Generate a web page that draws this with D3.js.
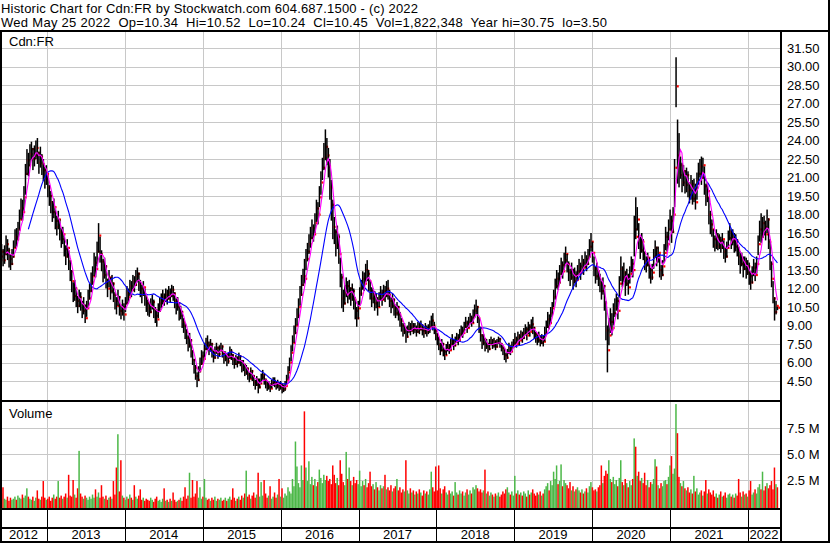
<!DOCTYPE html>
<html>
<head>
<meta charset="utf-8">
<script src="https://cdn.jsdelivr.net/npm/d3@7"></script>
<style>
  html, body { margin: 0; padding: 0; background: #fff; }
  svg { display: block; font-family: "Liberation Sans", Arial, sans-serif; }
</style>
</head>
<body>
<div id="chart"></div>
<script>
// header text
const headerLines = [
    "Historic Chart for Cdn:FR by Stockwatch.com 604.687.1500 - (c) 2022",
    "Wed May 25 2022  Op=10.34  Hi=10.52  Lo=10.24  Cl=10.45  Vol=1,822,348  Year hi=30.75  lo=3.50"
];
const headerWidths = [417, 606];
const yearLabels = ["2012", "2013", "2014", "2015", "2016", "2017", "2018", "2019", "2020", "2021", "2022"];
const priceTicks = [4.5, 6, 7.5, 9, 10.5, 12, 13.5, 15, 16.5, 18, 19.5, 21, 22.5, 24, 25.5, 27, 28.5, 30, 31.5];
const volTicks = [2.5, 5, 7.5];
const volTickLabels = ["2.5 M", "5.0 M", "7.5 M"];

// weekly bars, first week ends 2012-05-25
const weekHigh = [
    15.4,15.6,15.2,15.5,16.3,16.0,15.3,14.8,15.2,15.9,
    16.8,16.9,17.4,18.4,19.3,19.2,20.3,22.1,23.3,23.0,
    23.7,23.9,23.4,23.6,24.0,24.2,23.1,23.5,22.9,22.5,
    21.9,22.0,21.2,20.4,19.9,19.1,19.3,18.5,17.9,18.3,
    17.6,16.9,17.0,16.3,15.5,16.0,15.1,14.3,13.5,12.5,
    12.7,12.1,11.4,11.9,11.7,11.0,11.3,10.7,11.0,11.9,
    12.4,13.3,13.8,14.9,14.6,15.8,17.3,16.2,15.1,14.4,
    14.5,13.9,12.8,13.5,12.9,13.1,12.5,11.7,11.3,11.9,
    11.4,10.7,11.1,10.8,11.3,12.2,12.0,12.7,12.6,13.1,
    13.0,13.5,13.7,13.3,12.7,12.3,12.6,12.0,11.5,11.1,
    10.8,11.2,11.5,11.1,10.5,10.3,10.8,11.3,11.6,11.9,
    11.6,12.0,11.9,12.2,12.0,12.3,12.2,11.7,11.2,11.3,
    10.9,10.6,10.2,9.6,9.2,8.7,8.2,8.4,7.9,7.0,
    6.3,5.8,5.2,5.7,6.4,7.0,6.9,7.6,8.0,8.2,
    7.7,7.9,7.6,7.0,7.3,7.6,7.3,7.4,7.6,7.4,
    6.9,6.9,6.7,6.8,7.3,7.1,6.7,6.4,6.6,6.5,
    6.8,6.6,6.2,6.2,5.9,5.8,5.6,5.2,5.6,5.4,
    5.0,4.6,4.9,4.7,4.7,5.1,5.4,5.1,4.7,4.5,
    4.5,4.3,4.6,4.8,4.8,4.5,4.6,4.4,4.5,4.3,
    4.2,4.5,5.0,5.7,6.4,7.4,8.2,9.0,9.6,10.4,
    11.2,12.2,13.1,13.6,14.4,15.2,15.7,16.4,17.0,17.6,
    17.2,18.1,19.2,19.0,20.3,21.5,22.6,23.8,24.9,24.2,
    23.4,22.5,20.8,19.2,17.8,16.8,17.1,16.4,14.5,13.2,
    11.9,12.3,12.9,12.6,12.7,12.1,12.4,12.0,11.3,10.5,
    11.0,12.1,12.7,13.4,13.3,14.0,14.3,13.5,12.7,12.1,
    12.0,11.8,11.6,11.3,11.7,12.2,11.9,12.3,12.2,12.6,
    12.7,11.9,11.3,11.6,11.2,10.7,10.9,10.6,10.1,9.6,
    9.2,9.2,8.9,9.0,9.3,9.2,9.4,9.2,9.2,9.0,
    9.3,9.2,9.4,9.1,8.9,9.2,9.0,9.1,9.4,9.8,
    10.0,9.3,8.8,8.4,8.1,7.6,7.9,7.6,7.1,7.5,
    7.7,7.5,7.9,8.3,7.9,8.1,8.4,8.3,8.7,9.0,
    8.9,9.3,9.7,9.4,9.7,10.0,9.8,10.3,10.7,11.1,
    10.6,9.7,8.9,8.3,8.3,8.0,7.9,7.6,7.9,8.1,
    7.9,8.0,7.8,7.9,8.1,8.0,7.6,7.4,7.2,6.8,
    7.1,7.6,7.4,7.7,7.9,8.4,8.1,8.5,8.3,8.6,
    8.5,8.8,9.1,8.9,9.3,9.1,9.5,9.7,8.9,8.5,
    8.3,8.5,8.2,8.3,8.2,8.9,9.4,10.1,9.9,10.5,
    10.9,11.9,12.8,13.5,13.3,13.9,14.5,14.2,14.9,15.4,
    14.8,14.2,13.6,14.1,13.6,13.7,13.4,13.9,14.4,14.1,
    14.7,14.4,15.0,14.7,15.2,16.0,16.5,15.8,14.6,13.8,
    14.1,13.5,13.2,12.6,12.9,12.3,11.0,9.0,9.6,10.4,
    10.0,10.8,11.2,11.6,11.3,13.0,14.6,13.8,14.1,13.4,
    13.6,13.2,13.8,14.6,14.4,17.9,19.4,18.6,17.3,16.2,
    16.5,16.0,15.0,14.6,14.9,14.5,13.7,14.0,15.2,15.9,
    15.4,15.4,14.8,13.9,14.3,15.6,17.0,16.6,17.6,18.4,
    17.9,18.6,22.5,30.75,25.7,24.6,22.7,22.2,22.0,21.6,
    21.8,21.5,20.6,21.2,20.8,20.9,20.5,21.4,22.2,22.5,
    22.7,22.6,21.9,20.5,20.6,19.4,18.3,17.6,16.8,16.3,
    16.8,16.5,16.4,16.2,16.5,15.9,15.3,15.8,16.7,17.3,
    16.8,16.8,16.5,16.4,16.0,15.4,15.0,14.9,14.6,14.6,
    14.5,14.3,14.1,13.4,13.8,14.4,14.1,14.6,16.3,17.5,
    18.1,17.8,17.9,17.5,18.4,17.7,16.0,14.2,12.6,11.3,
    11.0,10.52
];
const weekLow = [
    13.9,14.2,13.8,14.0,14.7,14.3,13.7,13.5,13.9,14.5,
    15.3,15.4,15.9,16.7,17.6,17.5,18.3,19.6,21.2,21.1,
    21.9,22.4,21.6,21.9,22.5,22.1,21.3,21.8,21.2,20.7,
    20.1,20.4,19.4,18.7,18.1,17.4,17.7,16.8,16.3,16.8,
    15.9,15.3,15.6,14.6,13.9,14.5,13.5,12.6,11.7,10.9,
    11.0,10.5,10.0,10.5,10.2,9.6,9.9,9.2,9.7,10.4,
    11.1,11.7,12.3,13.0,12.9,13.8,14.9,14.1,13.4,12.5,
    12.8,12.0,11.3,12.1,11.1,11.6,10.9,10.3,9.9,10.6,
    9.8,9.5,9.8,9.4,10.1,10.7,10.8,11.4,11.3,11.9,
    11.7,12.2,12.5,11.8,11.3,10.8,11.4,10.6,10.1,9.8,
    9.7,10.0,10.3,9.6,9.2,8.9,9.6,10.1,10.4,10.7,
    10.6,10.9,10.7,11.1,10.9,11.3,11.0,10.4,9.9,10.2,
    9.4,9.5,8.8,8.4,7.9,7.5,6.9,7.2,6.4,5.8,
    5.1,4.6,4.0,4.5,5.2,5.8,5.9,6.4,7.0,7.0,
    6.6,6.9,6.4,6.0,6.3,6.7,6.3,6.5,6.9,6.4,
    5.9,6.1,5.7,5.9,6.3,6.2,5.8,5.5,5.8,5.6,
    5.9,5.7,5.2,5.3,4.9,5.0,4.6,4.4,4.7,4.5,
    4.1,3.8,4.1,3.5,3.9,4.3,4.6,4.2,3.9,3.7,
    3.8,3.6,3.9,4.1,4.0,3.8,3.9,3.7,3.8,3.5,
    3.6,3.7,4.2,4.6,5.3,6.1,6.9,7.6,8.3,9.0,
    9.6,10.6,11.4,12.2,12.4,13.5,14.2,14.8,15.3,16.0,
    15.8,16.5,17.4,17.2,18.6,19.6,20.8,21.6,22.4,22.0,
    21.0,19.2,17.5,16.0,15.6,14.6,15.2,14.0,12.1,10.4,
    10.1,10.7,11.3,10.8,11.1,10.6,11.0,10.3,9.5,8.9,
    9.5,10.6,11.4,11.9,11.8,12.5,12.6,11.8,11.1,10.5,
    10.8,10.2,10.4,9.8,10.5,11.0,10.6,11.1,10.9,11.3,
    11.1,10.5,10.0,10.4,9.8,9.6,9.8,9.4,8.9,8.5,
    8.1,8.3,7.6,8.0,8.4,8.2,8.5,8.3,8.4,8.1,
    8.4,8.3,8.6,8.2,8.0,8.3,8.1,8.3,8.4,8.8,
    8.6,8.3,7.8,7.4,7.0,6.6,6.9,6.5,6.2,6.6,
    6.9,6.7,7.0,7.4,7.0,7.3,7.6,7.4,7.8,8.1,
    8.0,8.4,8.8,8.4,8.8,9.1,8.9,9.2,9.6,9.9,
    9.2,8.4,7.7,7.1,7.4,6.9,7.1,6.8,7.0,7.4,
    7.1,7.2,7.0,7.2,7.5,7.2,6.9,6.6,6.2,6.0,
    6.3,6.7,6.6,6.9,7.2,7.4,7.2,7.6,7.4,7.9,
    7.6,7.9,8.2,7.8,8.3,8.1,8.6,8.3,7.9,7.6,
    7.4,7.6,7.3,7.5,7.3,7.7,8.3,8.8,8.7,9.2,
    9.7,10.5,11.1,12.0,11.9,12.4,13.1,12.8,13.5,14.0,
    13.3,12.6,12.2,12.7,11.9,12.4,12.1,12.7,13.1,12.7,
    13.4,13.1,13.7,13.4,13.9,14.5,15.0,14.1,13.0,12.4,
    12.7,12.2,11.7,11.1,11.5,10.2,7.8,5.2,7.4,8.4,
    8.2,9.0,9.7,10.2,9.5,11.3,12.6,12.1,12.5,11.4,
    12.2,11.5,12.4,13.3,12.9,14.6,16.0,16.7,15.2,14.4,
    14.9,14.3,13.5,13.3,13.8,12.8,12.4,12.7,13.6,14.5,
    13.8,14.1,12.9,12.7,13.0,14.1,15.1,15.0,15.9,16.7,
    15.7,16.5,18.6,26.7,20.5,20.2,20.9,19.8,20.3,19.7,
    19.8,19.4,18.9,19.2,18.8,19.0,18.4,19.2,20.4,21.0,
    20.4,20.9,19.6,18.7,19.0,17.2,16.4,16.2,15.3,15.0,
    15.2,15.1,15.2,14.9,15.2,14.4,14.1,14.5,15.3,15.9,
    15.2,15.5,14.9,15.0,14.6,13.9,13.2,13.8,12.9,13.5,
    12.8,13.1,12.3,11.9,12.4,13.0,12.6,13.2,14.7,15.8,
    15.7,16.1,16.3,15.9,16.5,15.2,13.5,12.1,10.8,9.4,
    9.9,10.24
];
const weekClose = [
    14.6,15.0,14.3,14.8,15.6,15.1,14.4,14.0,14.6,15.3,
    16.2,16.0,16.8,17.6,18.5,18.2,19.4,21.3,22.4,22.0,
    22.9,23.3,22.5,22.8,23.4,23.0,22.2,22.7,22.1,21.6,
    20.9,21.3,20.2,19.5,19.0,18.2,18.6,17.5,17.0,17.6,
    16.6,16.0,16.4,15.2,14.6,15.3,14.2,13.4,12.6,11.4,
    12.0,11.0,10.6,11.3,10.9,10.2,10.6,9.6,10.4,11.2,
    11.8,12.5,13.0,14.1,13.6,15.0,16.3,14.8,14.2,13.1,
    13.8,12.6,12.0,12.9,11.8,12.4,11.5,11.0,10.6,11.3,
    10.2,10.0,10.5,9.9,10.8,11.6,11.3,12.2,11.9,12.6,
    12.3,13.0,13.2,12.4,12.0,11.5,12.1,11.2,10.8,10.4,
    10.1,10.6,10.9,10.3,9.8,9.5,10.2,10.8,11.0,11.3,
    11.0,11.5,11.2,11.7,11.4,11.9,11.6,11.0,10.5,10.8,
    9.8,10.1,9.3,9.0,8.5,8.0,7.4,7.8,6.9,6.2,
    5.6,4.9,4.6,5.3,5.9,6.5,6.3,7.1,7.6,7.4,
    7.0,7.5,6.8,6.4,6.9,7.2,6.7,7.0,7.3,6.8,
    6.3,6.6,6.1,6.4,6.9,6.6,6.2,5.9,6.3,6.0,
    6.5,6.1,5.6,5.8,5.2,5.5,5.0,4.7,5.3,4.9,
    4.4,4.2,4.6,4.0,4.3,4.8,5.0,4.6,4.3,4.0,
    4.2,3.9,4.3,4.5,4.4,4.1,4.3,4.0,4.2,3.8,
    3.9,4.1,4.6,5.2,6.0,6.8,7.6,8.4,9.0,9.8,
    10.5,11.5,12.3,13.0,12.8,14.4,15.0,15.6,16.1,16.9,
    16.4,17.3,18.5,18.0,19.4,20.6,21.8,22.6,23.5,22.8,
    21.9,20.2,18.8,17.0,16.6,15.5,16.2,14.8,12.9,11.2,
    10.8,11.6,12.2,11.5,12.0,11.3,11.8,11.1,10.2,9.6,
    10.4,11.6,12.1,12.8,12.4,13.5,13.2,12.6,11.8,11.2,
    11.5,10.8,11.0,10.5,11.2,11.6,11.1,11.8,11.4,12.0,
    11.5,11.0,10.6,11.1,10.4,10.0,10.5,9.9,9.4,9.0,
    8.5,8.8,8.1,8.6,8.9,8.6,9.0,8.7,8.8,8.5,
    8.9,8.7,9.0,8.6,8.4,8.8,8.5,8.7,8.9,9.4,
    9.0,8.6,8.2,7.9,7.4,7.0,7.5,6.9,6.6,7.1,
    7.3,7.0,7.5,7.8,7.4,7.7,8.0,7.8,8.3,8.6,
    8.4,8.9,9.2,8.8,9.3,9.6,9.2,9.8,10.2,10.5,
    9.6,8.8,8.2,7.6,7.9,7.3,7.5,7.1,7.5,7.8,
    7.4,7.7,7.3,7.6,7.9,7.5,7.2,7.0,6.6,6.4,
    6.8,7.2,6.9,7.3,7.6,7.9,7.5,8.1,7.8,8.3,
    8.0,8.4,8.7,8.2,8.9,8.5,9.1,8.8,8.3,8.0,
    7.8,8.1,7.6,7.9,7.7,8.4,8.9,9.5,9.2,10.0,
    10.4,11.3,12.2,12.8,12.5,13.2,13.9,13.4,14.3,14.8,
    14.0,13.3,12.9,13.5,12.6,13.1,12.7,13.4,13.8,13.3,
    14.1,13.7,14.4,14.0,14.6,15.4,15.8,14.9,13.6,13.0,
    13.4,12.8,12.4,11.8,12.2,10.8,8.6,7.0,8.2,9.3,
    8.8,10.0,10.4,11.0,10.2,12.4,13.6,12.9,13.3,12.4,
    13.0,12.1,13.2,14.0,13.5,16.8,16.2,17.6,16.0,15.1,
    15.8,14.9,14.2,13.9,14.5,13.5,12.9,13.3,14.6,15.3,
    14.4,14.9,13.5,13.1,13.8,14.9,16.2,15.6,16.8,17.5,
    16.6,18.0,21.8,28.4,22.8,21.2,22.0,20.6,21.5,20.4,
    21.2,20.0,19.6,20.5,19.3,20.2,19.0,20.8,21.3,21.9,
    21.0,22.0,20.3,19.4,19.9,18.0,17.2,16.8,16.0,15.5,
    16.2,15.4,15.9,15.3,16.0,15.0,14.6,15.3,16.1,16.6,
    15.8,16.3,15.4,15.9,15.1,14.6,14.0,14.4,13.6,14.1,
    13.3,13.8,13.0,12.5,13.2,13.7,13.1,14.0,15.6,16.8,
    16.2,17.3,17.0,16.4,17.6,15.8,14.0,12.8,11.2,10.1,
    10.6,10.45
];
// volume in millions of shares
const weekVol = [
    0.9,1.2,1.8,0.7,0.6,0.9,0.5,0.8,0.6,0.7,
    0.9,0.6,1.0,0.8,0.7,1.1,0.8,1.0,1.7,0.9,
    0.7,0.6,0.9,0.5,0.8,1.5,0.7,0.6,0.9,2.4,
    0.8,0.6,0.7,0.9,0.5,0.8,1.1,0.7,0.9,2.4,
    0.8,1.0,0.7,0.9,1.2,0.8,3.0,1.0,0.9,2.5,
    1.1,0.8,1.7,5.3,1.2,0.9,0.7,1.0,0.8,0.6,
    0.9,0.7,1.1,0.8,1.6,0.9,1.3,0.8,2.0,0.9,
    0.7,1.0,0.6,0.8,0.9,0.7,2.4,1.1,3.7,6.9,
    1.4,4.4,1.0,0.8,0.6,0.9,0.7,1.1,0.8,0.6,
    2.0,0.9,0.7,1.0,1.6,0.6,0.8,0.5,0.7,0.6,
    0.5,0.8,0.6,0.4,0.7,0.9,0.5,0.6,0.4,0.7,
    1.7,0.5,0.6,0.4,0.7,0.5,1.3,0.6,0.4,0.5,
    0.6,0.8,0.5,0.9,1.8,0.7,1.0,3.2,0.8,2.5,
    0.9,1.2,2.4,0.8,1.8,0.7,0.9,2.6,0.8,0.6,
    0.7,0.5,0.8,0.6,0.9,0.5,0.7,0.6,0.8,0.5,
    0.6,0.8,0.5,0.7,0.9,0.6,1.7,0.8,0.5,0.7,
    0.9,0.6,1.0,0.8,1.2,3.4,0.9,1.1,0.7,1.0,
    1.3,0.8,1.1,3.2,0.9,2.3,1.0,2.5,1.2,0.8,
    1.0,1.9,0.7,0.9,1.3,0.8,1.1,2.6,0.9,1.7,
    0.8,1.2,1.0,1.8,1.4,1.2,2.6,1.9,6.2,3.8,
    2.2,1.8,3.9,2.5,9.1,3.7,2.4,4.3,2.1,2.8,
    2.0,2.6,1.9,2.3,3.5,2.7,2.2,3.0,2.5,2.9,
    2.4,2.6,2.1,3.9,3.0,2.2,2.7,2.0,4.4,3.1,
    2.3,2.0,5.2,2.6,3.7,2.4,2.0,2.8,2.2,2.5,
    2.1,3.4,1.9,2.4,2.0,2.6,1.8,2.2,3.3,1.9,
    2.1,1.6,2.3,1.8,1.5,2.0,1.7,1.9,3.0,1.6,
    1.8,1.5,2.0,1.4,1.7,1.9,2.6,1.5,1.8,1.3,
    1.6,1.4,4.4,1.5,1.2,1.7,1.3,1.5,1.1,1.4,
    1.2,1.6,1.3,1.0,1.5,1.2,1.4,1.1,1.6,3.3,
    1.8,1.4,3.8,1.5,3.9,1.7,1.2,1.6,1.9,1.3,
    1.1,1.5,1.2,1.4,1.0,2.3,1.3,1.1,1.5,1.2,
    1.4,1.0,1.3,1.6,1.1,1.5,1.2,1.8,1.6,2.0,
    1.7,1.4,1.6,1.3,1.5,3.5,1.2,1.4,1.0,1.3,
    1.1,0.9,1.2,1.0,1.3,0.9,1.1,1.4,1.2,1.6,
    1.8,1.3,1.1,1.4,1.0,2.9,1.2,1.5,1.1,1.3,
    1.0,1.4,1.2,0.9,1.5,1.1,1.3,1.6,1.2,1.0,
    1.3,1.1,1.4,1.0,1.2,1.6,1.9,2.2,1.5,2.4,
    2.0,3.3,2.6,3.9,2.1,2.4,4.0,1.9,2.5,2.2,
    2.0,1.7,2.3,1.5,1.9,1.4,1.6,1.8,1.5,1.3,
    1.6,1.2,1.4,1.7,1.3,1.9,2.3,1.8,1.5,1.6,
    1.4,1.8,2.0,3.9,2.2,2.9,3.4,3.1,4.4,2.6,
    2.3,2.8,2.1,2.5,1.9,2.7,4.4,2.3,2.0,2.6,
    2.2,1.8,2.4,2.0,2.6,6.5,5.7,2.9,3.3,2.4,
    2.7,2.2,3.2,2.0,2.5,1.8,2.3,2.1,2.6,4.5,
    3.8,2.0,1.7,2.2,1.9,2.4,2.5,2.1,2.8,3.9,
    4.8,3.1,3.6,9.8,7.0,2.8,2.2,1.9,2.4,1.7,
    1.5,1.8,1.3,1.6,1.2,2.9,1.4,1.7,1.1,1.3,
    1.5,1.0,1.4,2.5,1.2,1.6,1.3,1.1,1.5,0.9,
    1.2,0.8,1.1,1.4,0.9,1.0,1.3,0.8,1.1,1.2,
    0.9,1.1,0.8,1.2,1.0,2.6,1.3,0.9,1.4,1.1,
    1.2,0.9,1.5,2.4,1.1,1.3,1.6,1.2,1.8,2.1,
    1.6,3.3,1.5,1.9,2.2,1.7,2.0,2.4,1.6,3.7,
    2.1,1.8
];

const width = 830, height = 543;
const plotLeft = 2, plotRight = 780;
const priceTop = 32, priceBottom = 400;
const volTop = 402, volBottom = 508;

const svg = d3.select("#chart").append("svg")
    .attr("width", width)
    .attr("height", height);

const firstWeek = new Date(Date.UTC(2012, 4, 25));
const lastDay = new Date(Date.UTC(2022, 4, 25));

const x = d3.scaleUtc().domain([firstWeek, lastDay]).range([0, 778.5]);
const yPrice = d3.scaleLinear().domain([3, 31.5]).range([399.5, 48]);
const yVol = d3.scaleLinear().domain([0, 10]).range([506, 402]);

const weeks = weekClose.map((c, i) => ({
    date: d3.utcDay.offset(firstWeek, i * 7),
    hi: weekHigh[i],
    lo: weekLow[i],
    cl: c,
    vol: weekVol[i],
    prev: i > 0 ? weekClose[i - 1] : c
}));

// clip areas for the two panels
const defs = svg.append("defs");
defs.append("clipPath").attr("id", "clipPrice").append("rect")
    .attr("x", plotLeft).attr("y", priceTop)
    .attr("width", plotRight - plotLeft).attr("height", priceBottom - priceTop);
defs.append("clipPath").attr("id", "clipVol").append("rect")
    .attr("x", plotLeft).attr("y", volTop)
    .attr("width", plotRight - plotLeft).attr("height", volBottom - volTop);

// header
svg.selectAll("text.header")
    .data(headerLines)
    .join("text")
    .attr("class", "header")
    .attr("x", 1)
    .attr("y", (d, i) => 12.5 + i * 14.5)
    .attr("xml:space", "preserve")
    .attr("textLength", (d, i) => headerWidths[i])
    .attr("lengthAdjust", "spacing")
    .style("font-size", "13px")
    .text(d => d);

// grid
const grid = svg.append("g")
    .attr("stroke", "#c8c8c8")
    .attr("stroke-width", 1)
    .attr("shape-rendering", "crispEdges");

grid.selectAll("line.hp")
    .data(priceTicks)
    .join("line")
    .attr("x1", plotLeft).attr("x2", plotRight)
    .attr("y1", d => Math.round(yPrice(d)) + 0.5)
    .attr("y2", d => Math.round(yPrice(d)) + 0.5);

grid.selectAll("line.hv")
    .data(volTicks)
    .join("line")
    .attr("x1", plotLeft).attr("x2", plotRight)
    .attr("y1", d => Math.round(yVol(d)) + 0.5)
    .attr("y2", d => Math.round(yVol(d)) + 0.5);

const yearStarts = d3.utcYears(new Date(Date.UTC(2013, 0, 1)), new Date(Date.UTC(2022, 0, 2)));

grid.selectAll("line.vy")
    .data(yearStarts)
    .join("line")
    .attr("x1", d => Math.round(x(d)) + 0.5)
    .attr("x2", d => Math.round(x(d)) + 0.5)
    .attr("y1", priceTop)
    .attr("y2", volBottom);

// price bars with close tick
const bars = svg.append("g").attr("clip-path", "url(#clipPrice)")
    .selectAll("g")
    .data(weeks)
    .join("g");

bars.append("rect")
    .attr("x", d => x(d.date) - 0.65)
    .attr("width", 1.5)
    .attr("y", d => yPrice(d.hi))
    .attr("height", d => Math.max(1, yPrice(d.lo) - yPrice(d.hi)))
    .attr("fill", "#000");

bars.append("rect")
    .attr("x", d => x(d.date) + 0.8)
    .attr("width", 2)
    .attr("y", d => yPrice(d.cl) - 1)
    .attr("height", 2.2)
    .attr("fill", "#ff0000");

// moving averages
function movingAvg(n) {
    return weekClose.map((c, i) => i < n - 1 ? null : d3.mean(weekClose.slice(i - n + 1, i + 1)));
}
const maLong = movingAvg(20);
const maShort = movingAvg(5);

const maLine = d3.line()
    .defined(d => d[1] != null)
    .x(d => x(d[0]))
    .y(d => yPrice(d[1]));

const maG = svg.append("g").attr("clip-path", "url(#clipPrice)").attr("fill", "none");
maG.append("path")
    .attr("d", maLine(weeks.map((d, i) => [d.date, maLong[i]])))
    .attr("stroke", "#0000ff")
    .attr("stroke-width", 1.1);
maG.append("path")
    .attr("d", maLine(weeks.map((d, i) => [d.date, maShort[i]])))
    .attr("stroke", "#ff00ff")
    .attr("stroke-width", 1.1);

// volume
svg.append("g").attr("clip-path", "url(#clipVol)")
    .selectAll("rect")
    .data(weeks)
    .join("rect")
    .attr("x", d => x(d.date) - 0.75)
    .attr("width", 1.5)
    .attr("y", d => yVol(d.vol))
    .attr("height", d => volBottom - yVol(d.vol))
    .attr("fill", d => d.cl > d.prev ? "#4cb848" : (d.cl < d.prev ? "#ff0000" : "#a8a8a8"));

// frame lines
const frame = svg.append("g").attr("fill", "#000").attr("shape-rendering", "crispEdges");
frame.append("rect").attr("x", 0).attr("y", 30).attr("width", width).attr("height", 2);
frame.append("rect").attr("x", 0).attr("y", 400).attr("width", 782).attr("height", 2);
frame.append("rect").attr("x", 0).attr("y", 508).attr("width", 782).attr("height", 2);
frame.append("rect").attr("x", 0).attr("y", 527).attr("width", 782).attr("height", 2);
frame.append("rect").attr("x", 0).attr("y", 541).attr("width", width).attr("height", 2);
frame.append("rect").attr("x", 0).attr("y", 30).attr("width", 2).attr("height", 513);
frame.append("rect").attr("x", plotRight).attr("y", 30).attr("width", 2).attr("height", 513);
frame.append("rect").attr("x", width - 2).attr("y", 0).attr("width", 2).attr("height", height);

// year separators in the two bottom rows
frame.selectAll("rect.ys")
    .data(yearStarts)
    .join("rect")
    .attr("class", "ys")
    .attr("x", d => Math.round(x(d)))
    .attr("y", 510)
    .attr("width", 1)
    .attr("height", 31);

// labels
const labelFont = "13px";
svg.append("text").attr("x", 9).attr("y", 46).style("font-size", labelFont).text("Cdn:FR");
svg.append("text").attr("x", 9).attr("y", 418).style("font-size", labelFont).text("Volume");

svg.selectAll("text.pt")
    .data(priceTicks)
    .join("text")
    .attr("class", "pt")
    .attr("x", 787)
    .attr("y", d => yPrice(d))
    .attr("dy", "0.36em")
    .style("font-size", labelFont)
    .text(d => d.toFixed(2));

svg.selectAll("text.vt")
    .data(volTicks)
    .join("text")
    .attr("class", "vt")
    .attr("x", 787)
    .attr("y", d => yVol(d))
    .attr("dy", "0.36em")
    .style("font-size", labelFont)
    .text((d, i) => volTickLabels[i]);

const bounds = [0].concat(yearStarts.map(d => x(d)), [plotRight]);
svg.selectAll("text.yr")
    .data(yearLabels)
    .join("text")
    .attr("class", "yr")
    .attr("x", (d, i) => (bounds[i] + bounds[i + 1]) / 2)
    .attr("y", 539)
    .attr("text-anchor", "middle")
    .style("font-size", labelFont)
    .text(d => d);
</script>
</body>
</html>
